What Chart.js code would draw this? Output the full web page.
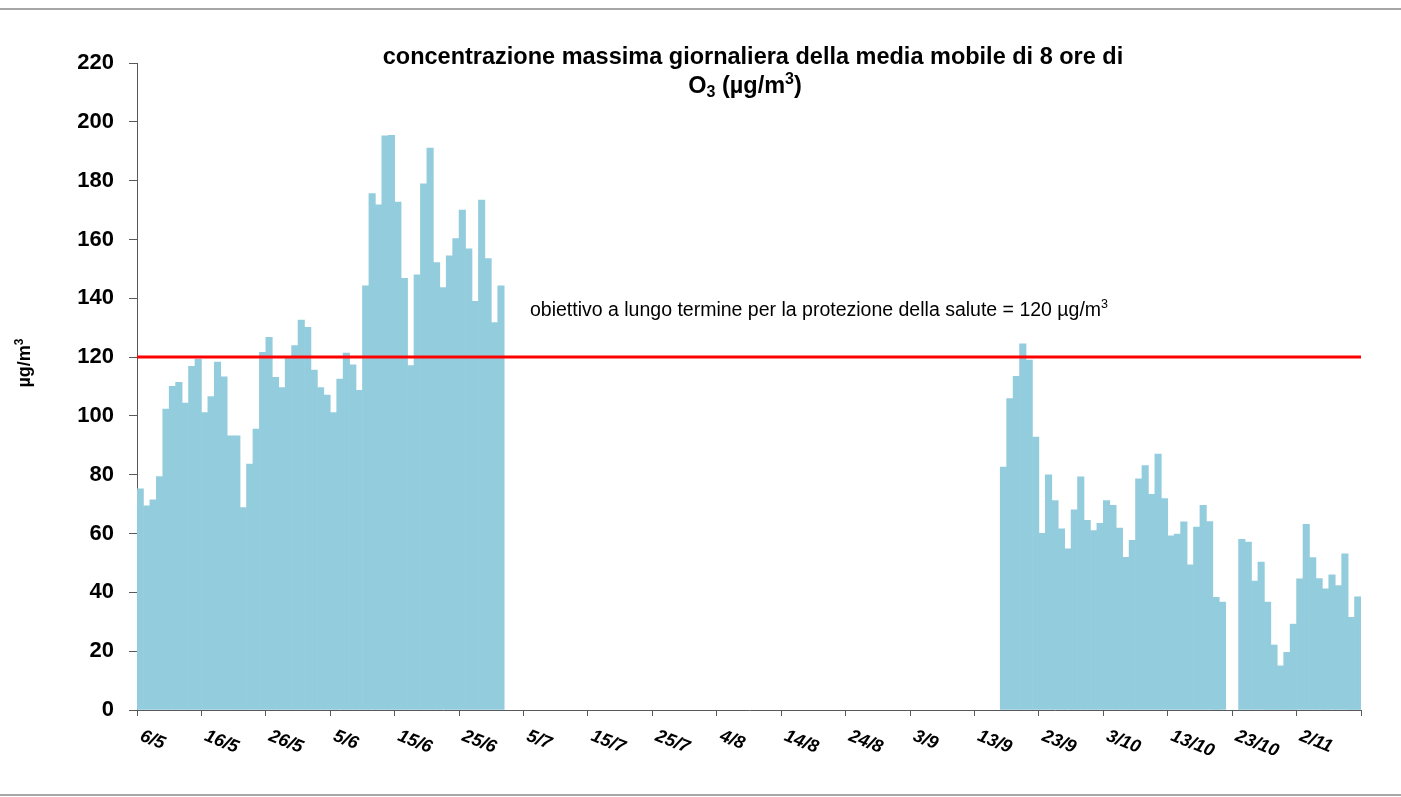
<!DOCTYPE html>
<html><head><meta charset="utf-8">
<script src="https://cdn.jsdelivr.net/npm/chart.js@4.4.1/dist/chart.umd.min.js"></script>
<style>html,body{margin:0;padding:0;background:#fff;}canvas{display:block;}</style>
</head><body>
<canvas id="c" width="1401" height="797"></canvas>
<script>
// ---------- DATA ----------
// daily categories: 190 days starting 6 May
const startDay = { day: 6, month: 5 };
const categories = [];
for (let i = 0; i < 190; i++) {
  const d = new Date(2011, startDay.month - 1, startDay.day + i);
  categories.push(d.getDate() + '/' + (d.getMonth() + 1));
}
// max daily 8-h running mean O3 (µg/m3), one value per category (null = no data)
const o3 = [
  75.2, 69.4, 71.5, 79.4, 102.3, 110.1, 111.4, 104.4, 116.9, 119.3,
  101.1, 106.6, 118.3, 113.3, 93.2, 93.2, 68.8, 83.6, 95.5, 121.6,
  126.7, 113.1, 109.6, 119.9, 123.9, 132.6, 130.1, 115.6, 109.6, 107.1,
  101.1, 112.5, 121.4, 117.4, 108.7, 144.2, 175.6, 171.8, 195.2, 195.4,
  172.7, 146.8, 117.1, 148.0, 178.9, 191.1, 152.1, 143.6, 154.4, 160.3,
  170.0, 156.8, 139.0, 173.4, 153.5, 131.7, 144.2, null, null, null,
  null, null, null, null, null, null, null, null, null, null,
  null, null, null, null, null, null, null, null, null, null,
  null, null, null, null, null, null, null, null, null, null,
  null, null, null, null, null, null, null, null, null, null,
  null, null, null, null, null, null, null, null, null, null,
  null, null, null, null, null, null, null, null, null, null,
  null, null, null, null, null, null, null, null, null, null,
  null, null, null, null, 82.6, 105.9, 113.5, 124.5, 119.0, 92.8,
  60.1, 80.0, 71.2, 61.6, 54.8, 68.1, 79.3, 64.5, 61.0, 63.5,
  71.2, 69.6, 61.9, 51.9, 57.7, 78.6, 83.1, 73.3, 87.0, 71.9,
  59.2, 59.8, 64.0, 49.4, 62.2, 69.6, 64.1, 38.3, 36.7, null,
  null, 58.0, 57.1, 43.8, 50.3, 36.7, 22.1, 15.0, 19.6, 29.2,
  44.6, 63.1, 51.8, 44.7, 41.2, 46.0, 42.3, 53.1, 31.5, 38.5
];
const target = 120;
const tickLabels = ['6/5','16/5','26/5','5/6','15/6','25/6','5/7','15/7','25/7','4/8',
  '14/8','24/8','3/9','13/9','23/9','3/10','13/10','23/10','2/11'];
const tickStep = 10;
const yTicks = { min: 0, max: 220, step: 20 };
const titleLine1 = 'concentrazione massima giornaliera della media mobile di 8 ore di';
const annotationText = 'obiettivo a lungo termine per la protezione della salute = 120 µg/m';
const annotationAt = { index: 61, value: 134 };

// ---------- DRAWING ----------
const FONT = '"Liberation Sans", Arial, Helvetica, sans-serif';
function f(size, weight, style) { return (style || '') + ' ' + (weight || 'normal') + ' ' + size + 'px ' + FONT; }
function richWidth(ctx, parts) { let w = 0; for (const p of parts) { ctx.font = p.font; w += ctx.measureText(p.t).width; } return w; }
function drawRich(ctx, parts, x, y) {
  let cx = x;
  for (const p of parts) { ctx.font = p.font; ctx.fillText(p.t, cx, y + (p.dy || 0)); cx += ctx.measureText(p.t).width; }
}

const textPlugin = {
  id: 'texts',
  beforeDraw(chart) {
    const c = chart.ctx;
    c.save();
    c.fillStyle = '#fff'; c.fillRect(0, 0, chart.width, chart.height);
    c.strokeStyle = '#A6A6A6'; c.lineWidth = 2;
    c.beginPath(); c.moveTo(0, 9); c.lineTo(chart.width, 9); c.moveTo(0, 795); c.lineTo(chart.width, 795); c.stroke();
    c.restore();
  },
  afterDraw(chart) {
    const c = chart.ctx, xs = chart.scales.x, ys = chart.scales.y, ca = chart.chartArea;
    c.save();
    c.fillStyle = '#000';
    c.textAlign = 'left'; c.textBaseline = 'alphabetic';
    // title
    const cx = (ca.left + ca.right) / 2 + 4;
    const T = f(23.5, 'bold'), Ts = f(16, 'bold');
    c.font = T;
    const w1 = c.measureText(titleLine1).width;
    c.fillText(titleLine1, cx - w1 / 2, 64);
    const l2 = [{ t: 'O', font: T }, { t: '3', font: Ts, dy: 4 }, { t: ' (µg/m', font: T }, { t: '3', font: Ts, dy: -9 }, { t: ')', font: T }];
    drawRich(c, l2, cx - 8 - richWidth(c, l2) / 2, 93);
    // y title
    const yt = [{ t: 'µg/m', font: f(18, 'bold') }, { t: '3', font: f(12, 'bold'), dy: -7 }];
    c.save();
    c.translate(30, 363); c.rotate(-Math.PI / 2);
    drawRich(c, yt, -richWidth(c, yt) / 2, 0);
    c.restore();
    // x tick labels
    const ang = 22 * Math.PI / 180;
    tickLabels.forEach((lab, k) => {
      const x = xs.getPixelForValue(k * tickStep);
      c.save();
      c.translate(x + 2, ca.bottom + 30);
      c.rotate(ang);
      c.font = f(18, 'bold', 'italic');
      c.fillText(lab, 0, 0);
      c.restore();
    });
    // annotation
    const ann = [{ t: annotationText, font: f(19.5) }, { t: '3', font: f(12.5), dy: -8 }];
    drawRich(c, ann, xs.getPixelForValue(annotationAt.index), ys.getPixelForValue(annotationAt.value));
    c.restore();
  }
};

new Chart(document.getElementById('c'), {
  type: 'bar',
  data: {
    labels: categories,
    datasets: [
      { type: 'line', label: 'obiettivo', data: [{ x: 0, y: target }, { x: categories.length, y: target }],
        borderColor: '#FF0000', borderWidth: 3, pointRadius: 0, order: 0 },
      { type: 'bar', label: 'O3', data: o3.map((v, i) => ({ x: i + 0.5, y: v })),
        backgroundColor: '#93CDDD', borderWidth: 0, barPercentage: 1, categoryPercentage: 1, order: 1 }
    ]
  },
  options: {
    responsive: false, animation: false, devicePixelRatio: 1,
    layout: { padding: { left: 0, right: 40, top: 63, bottom: 67 } },
    plugins: { legend: { display: false }, title: { display: false }, tooltip: { enabled: false } },
    scales: {
      x: {
        type: 'linear', min: 0, max: categories.length, offset: false,
        grid: { offset: false, drawOnChartArea: false, drawTicks: true, tickLength: 6, color: '#595959', lineWidth: 1 },
        border: { display: true, color: '#595959', width: 1 },
        ticks: { display: false, stepSize: tickStep, autoSkip: false },
        afterFit: s => { s.height = 20; }
      },
      y: {
        min: yTicks.min, max: yTicks.max,
        ticks: { stepSize: yTicks.step, color: '#000', font: { family: FONT, size: 22, weight: 'bold' }, padding: 15 },
        grid: { drawOnChartArea: false, drawTicks: true, tickLength: 8, color: '#595959' },
        border: { display: true, color: '#595959', width: 1 },
        afterFit: s => { s.width = 137; }
      }
    }
  },
  plugins: [textPlugin]
});
</script>
</body></html>
